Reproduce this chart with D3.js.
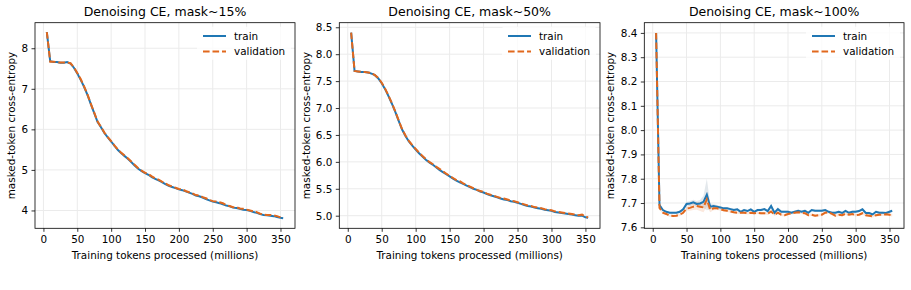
<!doctype html>
<html lang="en">
<head>
  <meta charset="utf-8">
  <title>Denoising CE</title>
  <script src="https://d3js.org/d3.v7.min.js"></script>
  <style>
    body { margin: 0; background: #fff; }
    text { font-family: "DejaVu Sans", sans-serif; fill: #000; }
  </style>
</head>
<body>
<svg width="911" height="290"></svg>
<script>
// tokens processed (millions), shared by every panel
var tokens = [5, 10, 15, 20, 25, 30, 35, 40, 45, 50,
  55, 60, 65, 70, 75, 80, 85, 90, 95, 100,
  105, 110, 115, 120, 125, 130, 135, 140, 145, 150,
  155, 160, 165, 170, 175, 180, 185, 190, 195, 200,
  205, 210, 215, 220, 225, 230, 235, 240, 245, 250,
  255, 260, 265, 270, 275, 280, 285, 290, 295, 300,
  305, 310, 315, 320, 325, 330, 335, 340, 345, 350, 354];

var train15 = [8.40, 7.68, 7.66, 7.66, 7.64, 7.64, 7.66, 7.62, 7.52, 7.38,
  7.22, 7.05, 6.85, 6.62, 6.40, 6.18, 6.05, 5.91, 5.80, 5.70,
  5.59, 5.49, 5.41, 5.34, 5.27, 5.19, 5.10, 5.03, 4.97, 4.92,
  4.88, 4.82, 4.78, 4.74, 4.70, 4.65, 4.61, 4.58, 4.55, 4.52,
  4.50, 4.47, 4.44, 4.41, 4.37, 4.35, 4.32, 4.28, 4.25, 4.22,
  4.20, 4.18, 4.15, 4.12, 4.10, 4.07, 4.06, 4.04, 4.02, 4.01,
  3.99, 3.96, 3.94, 3.91, 3.89, 3.88, 3.87, 3.86, 3.84, 3.82, 3.81];
var val15 = [8.40, 7.67, 7.67, 7.65, 7.65, 7.65, 7.65, 7.63, 7.53, 7.39,
  7.24, 7.06, 6.86, 6.63, 6.41, 6.19, 6.06, 5.92, 5.81, 5.71,
  5.60, 5.50, 5.42, 5.35, 5.28, 5.20, 5.12, 5.04, 4.98, 4.93,
  4.90, 4.84, 4.79, 4.76, 4.71, 4.67, 4.62, 4.59, 4.56, 4.53,
  4.52, 4.48, 4.45, 4.42, 4.38, 4.37, 4.33, 4.30, 4.26, 4.23,
  4.22, 4.20, 4.18, 4.13, 4.11, 4.08, 4.08, 4.05, 4.04, 4.02,
  4.00, 3.98, 3.96, 3.92, 3.90, 3.89, 3.89, 3.88, 3.86, 3.83, 3.82];

var train50 = [8.40, 7.69, 7.68, 7.67, 7.67, 7.66, 7.64, 7.61, 7.55, 7.46,
  7.35, 7.22, 7.08, 6.93, 6.76, 6.60, 6.48, 6.38, 6.30, 6.23,
  6.16, 6.10, 6.04, 5.99, 5.95, 5.90, 5.85, 5.81, 5.77, 5.73,
  5.69, 5.65, 5.62, 5.59, 5.56, 5.53, 5.50, 5.48, 5.45, 5.43,
  5.40, 5.38, 5.36, 5.34, 5.32, 5.30, 5.29, 5.27, 5.26, 5.24,
  5.22, 5.20, 5.18, 5.17, 5.15, 5.14, 5.13, 5.11, 5.10, 5.09,
  5.07, 5.06, 5.05, 5.04, 5.03, 5.02, 5.01, 5.00, 5.00, 4.97, 4.96];
var val50 = [8.40, 7.69, 7.68, 7.67, 7.67, 7.66, 7.65, 7.61, 7.56, 7.47,
  7.36, 7.23, 7.09, 6.94, 6.77, 6.61, 6.49, 6.39, 6.31, 6.24,
  6.17, 6.11, 6.05, 6.00, 5.96, 5.91, 5.87, 5.83, 5.78, 5.74,
  5.70, 5.66, 5.64, 5.60, 5.57, 5.54, 5.51, 5.48, 5.46, 5.44,
  5.41, 5.39, 5.37, 5.35, 5.33, 5.32, 5.30, 5.28, 5.27, 5.25,
  5.23, 5.21, 5.19, 5.18, 5.16, 5.15, 5.14, 5.12, 5.11, 5.10,
  5.08, 5.07, 5.06, 5.05, 5.04, 5.03, 5.02, 5.01, 5.02, 4.98, 4.97];

var train100 = [8.40, 7.692, 7.671, 7.664, 7.660, 7.660, 7.660, 7.664, 7.674, 7.696,
  7.698, 7.703, 7.696, 7.698, 7.705, 7.735, 7.685, 7.688, 7.685, 7.682,
  7.678, 7.678, 7.675, 7.671, 7.674, 7.664, 7.671, 7.667, 7.674, 7.664,
  7.671, 7.671, 7.675, 7.667, 7.688, 7.660, 7.675, 7.664, 7.664, 7.664,
  7.660, 7.664, 7.668, 7.664, 7.668, 7.660, 7.671, 7.668, 7.668, 7.668,
  7.671, 7.664, 7.660, 7.660, 7.664, 7.659, 7.668, 7.660, 7.664, 7.664,
  7.667, 7.674, 7.659, 7.659, 7.653, 7.664, 7.660, 7.660, 7.659, 7.664, 7.668];
var val100 = [8.40, 7.680, 7.660, 7.655, 7.648, 7.647, 7.648, 7.652, 7.660, 7.677,
  7.680, 7.685, 7.688, 7.685, 7.682, 7.715, 7.672, 7.678, 7.678, 7.675,
  7.670, 7.668, 7.665, 7.662, 7.660, 7.660, 7.660, 7.658, 7.660, 7.658,
  7.660, 7.658, 7.658, 7.656, 7.665, 7.652, 7.660, 7.652, 7.650, 7.655,
  7.658, 7.660, 7.662, 7.660, 7.658, 7.650, 7.652, 7.648, 7.650, 7.652,
  7.660, 7.662, 7.655, 7.648, 7.652, 7.650, 7.656, 7.652, 7.655, 7.650,
  7.652, 7.658, 7.650, 7.648, 7.645, 7.650, 7.652, 7.652, 7.654, 7.652, 7.650];
// spread across runs (shaded band), mask~100% only
var trainSd100 = [0.010, 0.006, 0.004, 0.004, 0.004, 0.004, 0.004, 0.005, 0.006, 0.008,
  0.010, 0.010, 0.012, 0.014, 0.025, 0.065, 0.012, 0.008, 0.007, 0.006,
  0.005, 0.005, 0.005, 0.005, 0.005, 0.005, 0.005, 0.005, 0.005, 0.005,
  0.005, 0.005, 0.005, 0.006, 0.008, 0.006, 0.008, 0.006, 0.005, 0.005,
  0.005, 0.005, 0.005, 0.005, 0.005, 0.005, 0.005, 0.005, 0.005, 0.005,
  0.005, 0.005, 0.005, 0.005, 0.005, 0.005, 0.005, 0.005, 0.005, 0.005,
  0.005, 0.006, 0.005, 0.005, 0.005, 0.005, 0.005, 0.005, 0.005, 0.005, 0.005];
var valSd100 = [0.010, 0.006, 0.005, 0.005, 0.005, 0.005, 0.005, 0.005, 0.006, 0.008,
  0.012, 0.014, 0.016, 0.018, 0.020, 0.030, 0.010, 0.008, 0.007, 0.006,
  0.005, 0.005, 0.005, 0.005, 0.005, 0.005, 0.005, 0.005, 0.005, 0.005,
  0.005, 0.005, 0.005, 0.005, 0.005, 0.005, 0.005, 0.005, 0.005, 0.005,
  0.005, 0.005, 0.005, 0.005, 0.005, 0.005, 0.005, 0.005, 0.005, 0.005,
  0.005, 0.005, 0.005, 0.005, 0.005, 0.005, 0.005, 0.005, 0.005, 0.005,
  0.005, 0.005, 0.005, 0.005, 0.005, 0.005, 0.005, 0.005, 0.005, 0.005, 0.005];

var xTicks = [0, 50, 100, 150, 200, 250, 300, 350];
var yTicks15 = [4, 5, 6, 7, 8];
var yTicks50 = [5.0, 5.5, 6.0, 6.5, 7.0, 7.5, 8.0, 8.5];
var yTicks100 = [7.6, 7.7, 7.8, 7.9, 8.0, 8.1, 8.2, 8.3, 8.4];

var blue = "#1f77b4", orange = "#e1681d";
var fs = 10.4, titleFs = 12.5;

var panels = [
  { title: "Denoising CE, mask~15%", left: 35, right: 295, yDom: [3.56, 8.63],
    yTicks: yTicks15, fmt: d3.format("d"), train: train15, val: val15, ylab: 15 },
  { title: "Denoising CE, mask~50%", left: 339.3, right: 600, yDom: [4.766, 8.585],
    yTicks: yTicks50, fmt: d3.format(".1f"), train: train50, val: val50, ylab: 310 },
  { title: "Denoising CE, mask~100%", left: 644.3, right: 904, yDom: [7.596, 8.442],
    yTicks: yTicks100, fmt: d3.format(".1f"), train: train100, val: val100,
    trainSd: trainSd100, valSd: valSd100, ylab: 614 }
];

var plotTop = 22.7, plotBottom = 228.3;
var svg = d3.select("svg");

panels.forEach(function(p, pi) {
  var x = d3.scaleLinear().domain([-12.45, 371.45]).range([p.left, p.right]);
  var y = d3.scaleLinear().domain(p.yDom).range([plotBottom, plotTop]);
  var g = svg.append("g");

  g.append("clipPath").attr("id", "clip" + pi)
    .append("rect").attr("x", p.left).attr("y", plotTop)
    .attr("width", p.right - p.left).attr("height", plotBottom - plotTop);

  // grid
  g.append("g").selectAll("line").data(xTicks).enter().append("line")
    .attr("x1", function(d) { return x(d); }).attr("x2", function(d) { return x(d); })
    .attr("y1", plotTop).attr("y2", plotBottom)
    .attr("stroke", "#ebebeb").attr("stroke-width", 1);
  g.append("g").selectAll("line").data(p.yTicks).enter().append("line")
    .attr("y1", function(d) { return y(d); }).attr("y2", function(d) { return y(d); })
    .attr("x1", p.left).attr("x2", p.right)
    .attr("stroke", "#ebebeb").attr("stroke-width", 1);

  var plot = g.append("g").attr("clip-path", "url(#clip" + pi + ")");

  function band(vals, sd, col, op) {
    var area = d3.area()
      .x(function(d, i) { return x(tokens[i]); })
      .y0(function(d, i) { return y(vals[i] - sd[i]); })
      .y1(function(d, i) { return y(vals[i] + sd[i]); });
    plot.append("path").attr("d", area(vals)).attr("fill", col).attr("opacity", op);
  }
  if (p.trainSd) {
    band(p.train, p.trainSd, "#8fa3b3", 0.25);
    band(p.val, p.valSd, orange, 0.15);
  }

  var line = d3.line().x(function(d, i) { return x(tokens[i]); }).y(function(d) { return y(d); });
  plot.append("path").attr("d", line(p.train)).attr("fill", "none")
    .attr("stroke", blue).attr("stroke-width", 2);
  plot.append("path").attr("d", line(p.val)).attr("fill", "none")
    .attr("stroke", orange).attr("stroke-width", 2).attr("stroke-dasharray", "6.6,2.9");

  // axes
  var xa = g.append("g").attr("transform", "translate(0," + plotBottom + ")")
    .call(d3.axisBottom(x).tickValues(xTicks).tickSize(3.5).tickPadding(3.5).tickFormat(d3.format("d")));
  var ya = g.append("g").attr("transform", "translate(" + p.left + ",0)")
    .call(d3.axisLeft(y).tickValues(p.yTicks).tickSize(3.5).tickPadding(3.5).tickFormat(p.fmt));
  [xa, ya].forEach(function(a) {
    a.select(".domain").remove();
    a.selectAll("line").attr("stroke", "#000").attr("stroke-width", 0.8);
    a.selectAll("text").attr("font-size", fs).attr("font-family", "DejaVu Sans").attr("fill", "#000");
  });

  g.append("rect").attr("x", p.left).attr("y", plotTop)
    .attr("width", p.right - p.left).attr("height", plotBottom - plotTop)
    .attr("fill", "none").attr("stroke", "#000").attr("stroke-width", 0.8);

  // titles & labels
  g.append("text").attr("x", (p.left + p.right) / 2).attr("y", 16.3)
    .attr("text-anchor", "middle").attr("font-size", titleFs).text(p.title);
  g.append("text").attr("x", (p.left + p.right) / 2).attr("y", 258.8)
    .attr("text-anchor", "middle").attr("font-size", fs).text("Training tokens processed (millions)");
  g.append("text").attr("transform", "translate(" + p.ylab + "," + ((plotTop + plotBottom) / 2) + ") rotate(-90)")
    .attr("text-anchor", "middle").attr("font-size", fs).text("masked-token cross-entropy");

  // legend
  var lx = p.right - 92;
  var leg = g.append("g");
  leg.append("rect").attr("x", lx - 6).attr("y", plotTop + 4).attr("width", 94).attr("height", 33)
    .attr("rx", 2).attr("fill", "#fff").attr("opacity", 0.8);
  [["train", blue, null, 36], ["validation", orange, "6.6,2.9", 51.5]].forEach(function(r) {
    leg.append("line").attr("x1", lx).attr("x2", lx + 23).attr("y1", r[3]).attr("y2", r[3])
      .attr("stroke", r[1]).attr("stroke-width", 2).attr("stroke-dasharray", r[2]);
    leg.append("text").attr("x", lx + 31).attr("y", r[3] + 3.7).attr("font-size", fs).text(r[0]);
  });
});
</script>
</body>
</html>
